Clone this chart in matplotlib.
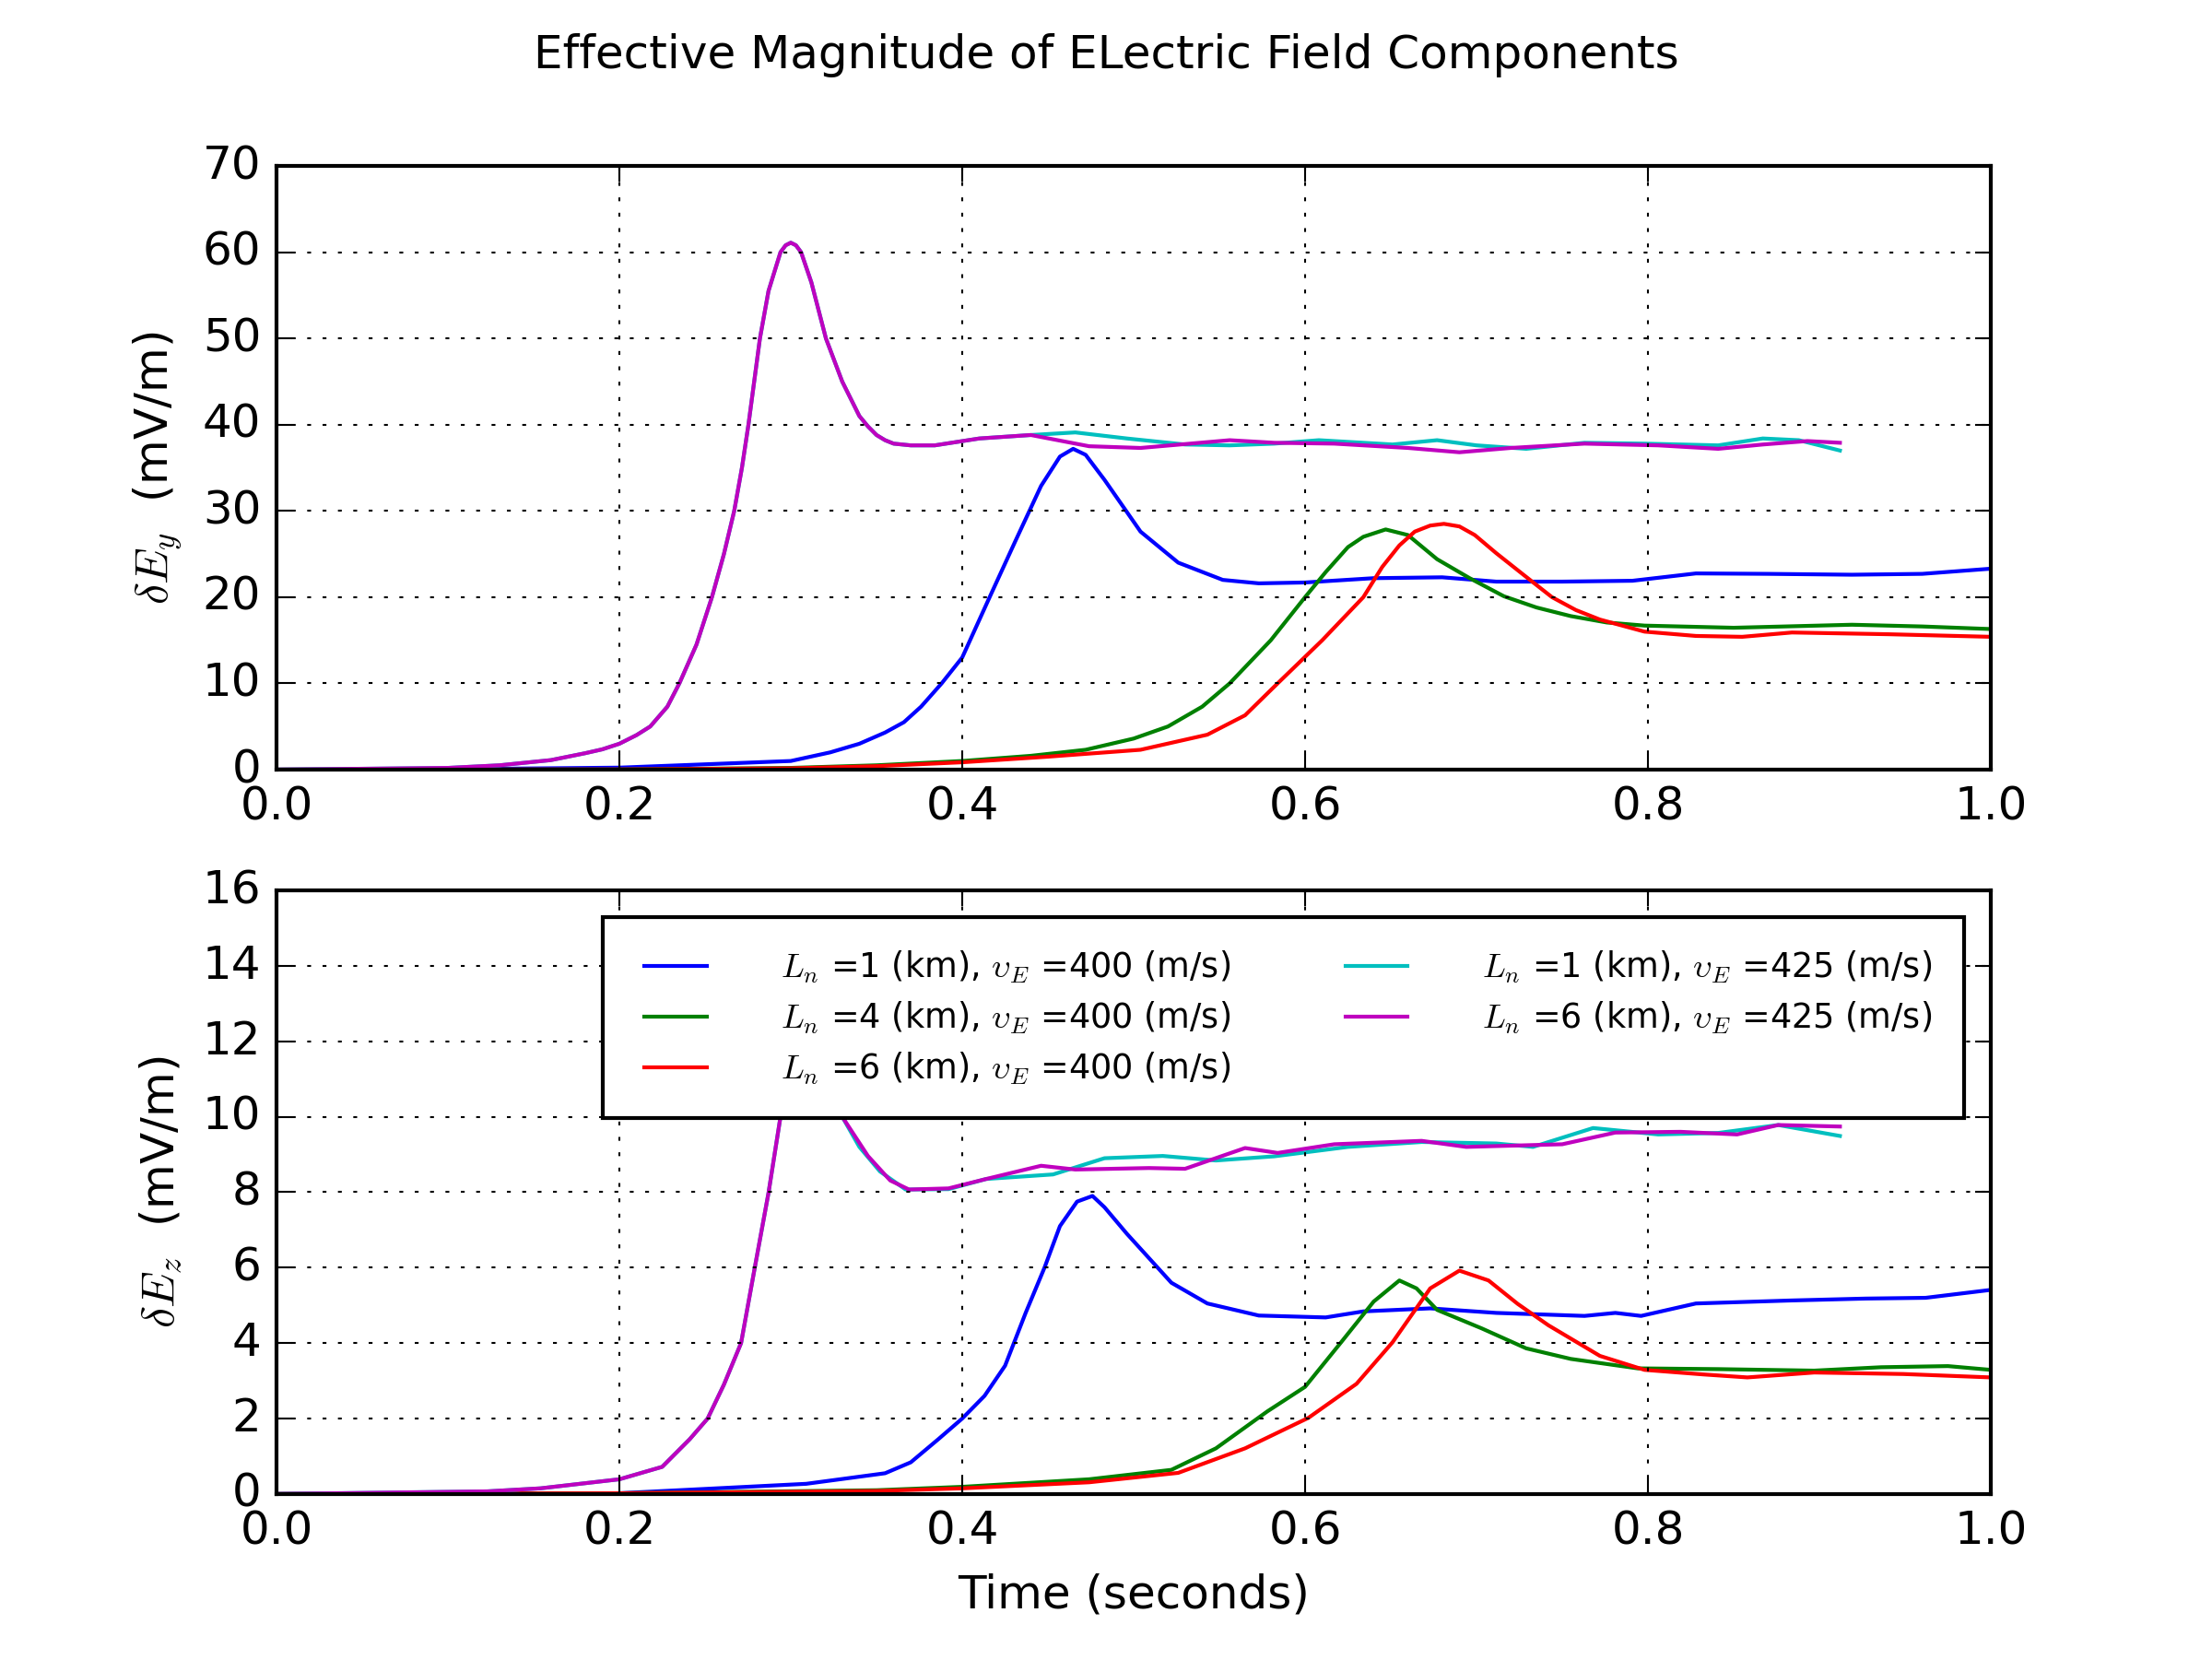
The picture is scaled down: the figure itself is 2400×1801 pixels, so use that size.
import numpy as np
import matplotlib
matplotlib.use('Agg')
import matplotlib.pyplot as plt

plt.style.use('classic')

# ---- top panel: delta E_y (mV/m) ----
t_b1 = [0.0, 0.1, 0.2, 0.3, 0.323, 0.34, 0.355, 0.366, 0.376, 0.388, 0.40, 0.416, 0.431, 0.446,
        0.457, 0.4647, 0.472, 0.483, 0.504, 0.526, 0.552, 0.573, 0.60, 0.64, 0.68, 0.7115,
        0.75, 0.791, 0.828, 0.87, 0.919, 0.96, 1.0]
y_b1 = [0.0, 0.05, 0.23, 1.0, 2.0, 3.0, 4.3, 5.5, 7.3, 10.0, 13.0, 20.0, 26.5, 32.9,
        36.3, 37.2, 36.5, 33.6, 27.6, 24.0, 22.0, 21.6, 21.7, 22.2, 22.3, 21.8,
        21.8, 21.9, 22.75, 22.7, 22.6, 22.7, 23.3]

t_g1 = [0.0, 0.2, 0.3, 0.35, 0.40, 0.44, 0.472, 0.50, 0.52, 0.54, 0.556, 0.58, 0.60, 0.612,
        0.625, 0.634, 0.647, 0.66, 0.677, 0.696, 0.716, 0.735, 0.755, 0.776, 0.798, 0.85,
        0.919, 0.96, 1.0]
y_g1 = [0.0, 0.02, 0.2, 0.5, 1.0, 1.6, 2.3, 3.6, 5.0, 7.3, 10.0, 15.0, 20.0, 22.9,
        25.8, 27.0, 27.85, 27.2, 24.4, 22.2, 20.1, 18.8, 17.8, 17.06, 16.7, 16.45,
        16.8, 16.6, 16.3]

t_r1 = [0.0, 0.2, 0.3, 0.35, 0.40, 0.45, 0.504, 0.543, 0.565, 0.584, 0.61, 0.634, 0.645,
        0.655, 0.664, 0.673, 0.681, 0.69, 0.699, 0.7115, 0.728, 0.744, 0.758, 0.772, 0.798,
        0.828, 0.855, 0.884, 0.94, 1.0]
y_r1 = [0.0, 0.02, 0.15, 0.4, 0.85, 1.5, 2.3, 4.05, 6.3, 10.0, 15.0, 20.0, 23.5,
        26.0, 27.6, 28.3, 28.5, 28.2, 27.2, 25.1, 22.5, 20.0, 18.5, 17.4, 16.0,
        15.5, 15.4, 15.9, 15.7, 15.4]

t_c1 = [0.0, 0.1, 0.13, 0.16, 0.18, 0.19, 0.2, 0.21, 0.218, 0.228, 0.235, 0.245, 0.254,
        0.261, 0.267, 0.2715, 0.2753, 0.282, 0.287, 0.294, 0.297, 0.30, 0.303, 0.306, 0.312,
        0.3205, 0.33, 0.34, 0.345, 0.35, 0.355, 0.36, 0.37, 0.384, 0.41, 0.44, 0.466, 0.496,
        0.53, 0.556, 0.582, 0.608, 0.651, 0.677, 0.70, 0.729, 0.763, 0.798, 0.841, 0.867,
        0.888, 0.912]
y_c1 = [0.0, 0.2, 0.5, 1.1, 1.9, 2.35, 3.0, 4.0, 5.0, 7.3, 10.0, 14.5, 20.0,
        25.0, 30.0, 35.0, 40.0, 50.0, 55.5, 60.0, 60.8, 61.1, 60.8, 60.0, 56.5,
        50.0, 45.0, 41.0, 39.8, 38.8, 38.2, 37.8, 37.6, 37.6, 38.4, 38.8, 39.1, 38.4,
        37.7, 37.6, 37.8, 38.2, 37.7, 38.2, 37.6, 37.2, 37.9, 37.8, 37.6, 38.4,
        38.2, 37.0]

t_m1 = [0.0, 0.1, 0.13, 0.16, 0.18, 0.19, 0.2, 0.21, 0.218, 0.228, 0.235, 0.245, 0.254,
        0.261, 0.267, 0.2715, 0.2753, 0.282, 0.287, 0.294, 0.297, 0.30, 0.303, 0.306, 0.312,
        0.3205, 0.33, 0.34, 0.345, 0.35, 0.355, 0.36, 0.37, 0.384, 0.41, 0.44, 0.474, 0.504,
        0.556, 0.582, 0.617, 0.66, 0.69, 0.72, 0.763, 0.806, 0.841, 0.867, 0.893, 0.912]
y_m1 = [0.0, 0.2, 0.5, 1.1, 1.9, 2.35, 3.0, 4.0, 5.0, 7.3, 10.0, 14.5, 20.0,
        25.0, 30.0, 35.0, 40.0, 50.0, 55.5, 60.0, 60.8, 61.1, 60.8, 60.0, 56.5,
        50.0, 45.0, 41.0, 39.8, 38.8, 38.2, 37.8, 37.6, 37.6, 38.4, 38.8, 37.5, 37.3,
        38.2, 37.9, 37.8, 37.3, 36.8, 37.3, 37.8, 37.6, 37.2, 37.7, 38.1, 37.9]

# ---- bottom panel: delta E_z (mV/m) ----
t_b2 = [0.0, 0.2, 0.309, 0.355, 0.37, 0.386, 0.40, 0.413, 0.425, 0.437, 0.448, 0.457, 0.467,
        0.476, 0.483, 0.496, 0.522, 0.543, 0.573, 0.612, 0.634, 0.673, 0.7115, 0.763, 0.781,
        0.796, 0.828, 0.884, 0.927, 0.962, 1.0]
y_b2 = [0.0, 0.02, 0.27, 0.55, 0.84, 1.45, 2.0, 2.6, 3.4, 4.8, 6.0, 7.1, 7.75,
        7.9, 7.6, 6.9, 5.6, 5.05, 4.73, 4.68, 4.84, 4.92, 4.8, 4.72, 4.8,
        4.72, 5.05, 5.13, 5.18, 5.2, 5.41]

t_g2 = [0.0, 0.2, 0.35, 0.40, 0.474, 0.522, 0.548, 0.578, 0.60, 0.621, 0.64, 0.655, 0.665,
        0.677, 0.703, 0.729, 0.755, 0.794, 0.841, 0.897, 0.936, 0.975, 1.0]
y_g2 = [0.0, 0.02, 0.1, 0.19, 0.39, 0.64, 1.21, 2.19, 2.84, 4.02, 5.1, 5.66, 5.45,
        4.88, 4.39, 3.86, 3.58, 3.33, 3.31, 3.27, 3.36, 3.39, 3.29]

t_r2 = [0.0, 0.2, 0.35, 0.40, 0.474, 0.526, 0.565, 0.602, 0.63, 0.651, 0.673, 0.69, 0.707,
        0.724, 0.742, 0.772, 0.798, 0.832, 0.858, 0.897, 0.949, 1.0]
y_r2 = [0.0, 0.02, 0.08, 0.15, 0.31, 0.56, 1.21, 2.02, 2.92, 4.02, 5.45, 5.92, 5.66,
        5.04, 4.47, 3.66, 3.29, 3.17, 3.09, 3.22, 3.18, 3.09]

t_c2 = [0.0, 0.123, 0.154, 0.2, 0.225, 0.241, 0.2515, 0.261, 0.271, 0.279, 0.287, 0.294, 0.30,
        0.33, 0.34, 0.352, 0.367, 0.392, 0.414, 0.453, 0.483, 0.517, 0.548, 0.582, 0.625,
        0.668, 0.7115, 0.733, 0.768, 0.806, 0.841, 0.876, 0.912]
y_c2 = [0.0, 0.07, 0.15, 0.39, 0.72, 1.45, 2.0, 2.9, 4.0, 6.0, 7.98, 10.0, 13.0,
        10.0, 9.2, 8.55, 8.07, 8.08, 8.35, 8.47, 8.9, 8.96, 8.84, 8.95, 9.2,
        9.33, 9.29, 9.2, 9.7, 9.53, 9.57, 9.78, 9.49]

t_m2 = [0.0, 0.123, 0.154, 0.2, 0.225, 0.241, 0.2515, 0.261, 0.271, 0.279, 0.287, 0.294, 0.30,
        0.33, 0.345, 0.358, 0.369, 0.392, 0.414, 0.446, 0.466, 0.509, 0.53, 0.565, 0.584,
        0.617, 0.668, 0.694, 0.75, 0.781, 0.819, 0.852, 0.876, 0.912]
y_m2 = [0.0, 0.07, 0.15, 0.39, 0.72, 1.45, 2.0, 2.9, 4.0, 6.0, 7.98, 10.0, 13.0,
        10.0, 8.96, 8.31, 8.07, 8.1, 8.35, 8.7, 8.6, 8.64, 8.62, 9.17, 9.04,
        9.27, 9.36, 9.2, 9.27, 9.58, 9.6, 9.53, 9.78, 9.74]

labels = [r'$L_n$ =1 (km), $\upsilon_E$ =400 (m/s)',
          r'$L_n$ =4 (km), $\upsilon_E$ =400 (m/s)',
          r'$L_n$ =6 (km), $\upsilon_E$ =400 (m/s)',
          r'$L_n$ =1 (km), $\upsilon_E$ =425 (m/s)',
          r'$L_n$ =6 (km), $\upsilon_E$ =425 (m/s)']
colors = ['b', 'g', 'r', 'c', 'm']

fig, (ax1, ax2) = plt.subplots(2, 1, figsize=(8, 6.0035))
fig.suptitle('Effective Magnitude of ELectric Field Components')

top = [(t_b1, y_b1), (t_g1, y_g1), (t_r1, y_r1), (t_c1, y_c1), (t_m1, y_m1)]
bot = [(t_b2, y_b2), (t_g2, y_g2), (t_r2, y_r2), (t_c2, y_c2), (t_m2, y_m2)]

for (t, y), c, lab in zip(top, colors, labels):
    ax1.plot(t, y, color=c, label=lab)
for (t, y), c, lab in zip(bot, colors, labels):
    ax2.plot(t, y, color=c, label=lab)

ax1.set_xlim(0, 1)
ax1.set_ylim(0, 70)
ax1.set_ylabel(r'$\delta E_y$  (mV/m)')
ax1.grid(True)

ax2.set_xlim(0, 1)
ax2.set_ylim(0, 16)
ax2.set_ylabel(r'$\delta E_z$  (mV/m)')
ax2.set_xlabel('Time (seconds)')
ax2.grid(True)
ax2.legend(loc='upper right', ncol=2, fontsize=8.8, borderpad=0.95,
           handlelength=2.43, handletextpad=1.9, columnspacing=3.1,
           labelspacing=0.42, borderaxespad=0.8)

plt.savefig('out.png', dpi=300)
